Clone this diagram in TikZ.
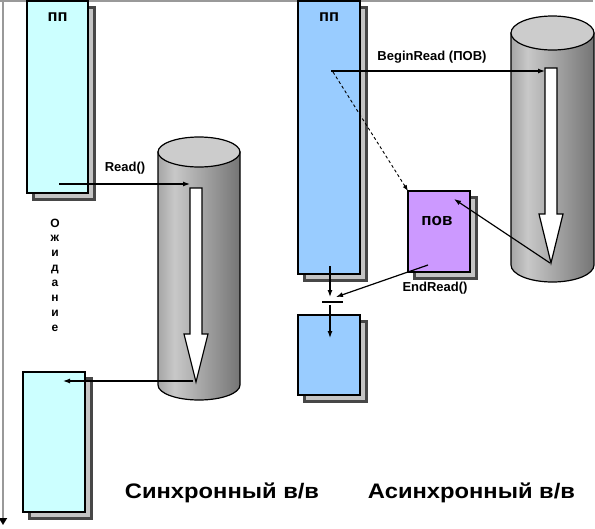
\documentclass[tikz,border=0pt]{standalone}
\usepackage{fontspec}
\setmainfont{Liberation Sans}
\usetikzlibrary{arrows.meta}
\definecolor{cyanbox}{HTML}{CCFFFF}
\definecolor{bluebox}{HTML}{99CCFF}
\definecolor{violetbox}{HTML}{CC99FF}
\definecolor{shlight}{HTML}{C4C4C4}
\definecolor{shdark}{HTML}{474747}
\definecolor{axisgray}{HTML}{999999}
\definecolor{cA}{RGB}{80,80,80}
\definecolor{cB}{RGB}{200,200,200}
\definecolor{cC}{RGB}{65,65,65}
\definecolor{captop}{HTML}{CCCCCC}
\pgfdeclarehorizontalshading{cylshade}{100bp}{color(0bp)=(cA); color(35bp)=(cB); color(100bp)=(cC)}
\begin{document}
\begin{tikzpicture}[x=1pt,y=-1pt,
  box/.style={draw=black, line width=2pt, inner sep=0pt, outer sep=0pt,
    preaction={draw=shdark, fill=shlight, line width=3pt,
      transform canvas={shift={(6.5pt,-6.5pt)}}}},
  conn/.style={line width=1.2pt, -{Latex[length=7pt,width=5pt]}},
  lbl/.style={font=\bfseries\fontsize{13}{15}\selectfont, inner sep=0pt},
  boxtitle/.style={font=\bfseries\fontsize{16.5}{18}\selectfont, inner sep=0pt},
  waitletter/.style={font=\bfseries\fontsize{12}{13}\selectfont, inner sep=0pt, anchor=base},
  caption/.style={font=\bfseries\fontsize{21}{24}\selectfont, inner sep=0pt},
  cylbody/.style={shading=cylshade, draw=black, line width=1.2pt},
  cyltop/.style={fill=captop, draw=black, line width=1.2pt},
  hollow/.style={fill=white, draw=black, line width=1.2pt, line join=miter}
]
\useasboundingbox (0,0) rectangle (595,528);

% frame lines (time axis and top line)
\draw[axisgray, line width=2pt] (0,1) -- (593,1);
\coordinate (t0) at (3,0);
\coordinate (t1) at (3,525);
\draw[axisgray, line width=2pt, -{Triangle[length=7pt,width=8pt,color=black]}] (t0) -- (t1);

% ---------- synchronous part ----------
\path[cylbody] (158,152) -- (158,385) arc[start angle=180, end angle=360, x radius=41pt, y radius=15pt] -- (240,152) -- cycle;
\path[cyltop] (199,152) ellipse [x radius=41pt, y radius=15pt];
\path[hollow] (190,188) -- (202,188) -- (202,334) -- (208,334) -- (196,382) -- (184,334) -- (190,334) -- cycle;

\node[box, fill=cyanbox, minimum width=61pt, minimum height=192pt] (pp1) at (57.5,97) {};
\node[boxtitle] (pp1t) at (57.5,17) {пп};
\node[box, fill=cyanbox, minimum width=62pt, minimum height=140pt] (pp1b) at (54,442) {};

\coordinate (r0) at (59,184);
\coordinate (r1) at (190,184);
\draw[conn] (r0) -- (r1);
\node[lbl] (readl) at (125,168) {Read()};
\coordinate (b0) at (193,381);
\coordinate (b1) at (63,381);
\draw[conn] (b0) -- (b1);

\foreach \ch [count=\i] in {О,ж,и,д,а,н,и,е}
  \node[waitletter] (w\i) at (55,{227+14.86*(\i-1)}) {\ch};

\node[caption] (sync) at (222,493) {\scalebox{1.13}[1]{Синхронный в/в}};

% ---------- asynchronous part ----------
\path[cylbody] (511,33) -- (511,265) arc[start angle=180, end angle=360, x radius=41.5pt, y radius=17pt] -- (594,33) -- cycle;
\path[cyltop] (552.5,33) ellipse [x radius=41.5pt, y radius=17pt];
\path[hollow] (545,68) -- (557,68) -- (557,214) -- (563,214) -- (551,263) -- (539,214) -- (545,214) -- cycle;

\node[box, fill=bluebox, minimum width=62pt, minimum height=273pt] (pp2) at (329,137.5) {};
\node[boxtitle] (pp2t) at (329,17) {пп};
\node[box, fill=violetbox, minimum width=62pt, minimum height=81pt] (pov) at (439,231.5) {};
\node[boxtitle, font=\bfseries\fontsize{17}{18}\selectfont] (povt) at (437,221) {пов};
\node[box, fill=bluebox, minimum width=62pt, minimum height=80pt] (pp2b) at (329,355) {};

\node[fill=black, inner sep=0pt, minimum width=21pt, minimum height=2.5pt] (bar) at (332,302) {};

\coordinate (br0) at (331,71);
\coordinate (br1) at (545,71);
\draw[conn] (br0) -- (br1);
\node[lbl] (brl) at (432,57) {BeginRead (ПОВ)};
\coordinate (d0) at (333,72);
\draw[line width=0.9pt, dash pattern=on 3pt off 2.5pt, -{Latex[length=6pt,width=4.5pt]}] (d0) -- (pov.north west);
\coordinate (c0) at (550,263);
\coordinate (c1) at (454,199);
\draw[conn] (c0) -- (c1);
\coordinate (e0) at (428,265);
\coordinate (e1) at (336,297);
\draw[conn] (e0) -- (e1);
\node[lbl] (erl) at (435,288) {EndRead()};
\coordinate (v0) at (330,266);
\coordinate (v1) at (330,297);
\draw[conn] (v0) -- (v1);
\coordinate (v2) at (330,305);
\coordinate (v3) at (330,338);
\draw[conn] (v2) -- (v3);

\node[caption] (async) at (471.5,493) {\scalebox{1.13}[1]{Асинхронный в/в}};
\end{tikzpicture}
\end{document}
